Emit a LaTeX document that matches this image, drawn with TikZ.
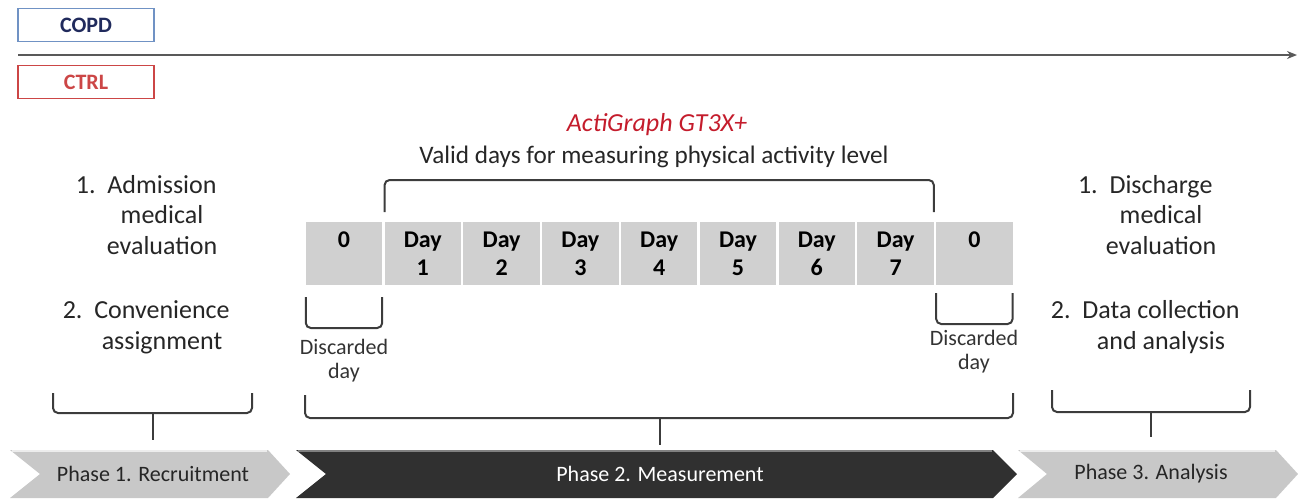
\documentclass[tikz,border=0pt]{standalone}
\usepackage{fontspec}
\setmainfont{Carlito}
\usepackage{xcolor}
\usetikzlibrary{arrows.meta, positioning, calc}

\definecolor{copdblue}{RGB}{112,146,196}
\definecolor{copdtext}{RGB}{32,42,92}
\definecolor{ctrlred}{RGB}{204,70,70}
\definecolor{actired}{RGB}{196,28,44}
\definecolor{cellgray}{RGB}{208,208,208}
\definecolor{phaselight}{RGB}{200,200,200}
\definecolor{phasedark}{RGB}{48,48,48}
\definecolor{brackgray}{RGB}{60,60,60}

\begin{document}
\begin{tikzpicture}[
    x=0.5pt, y=-0.5pt,
    group/.style={rectangle, thick, minimum width=68pt, minimum height=16.5pt, inner sep=0pt, font=\bfseries\fontsize{11}{12}\selectfont},
    daycell/.style={rectangle, fill=cellgray, minimum width=38.2pt, minimum height=31.5pt, inner sep=0pt, outer sep=0pt, align=center, font=\bfseries\fontsize{12}{14}\selectfont},
    note/.style={align=center, text=black!85, font=\fontsize{13}{15.3}\selectfont},
    small/.style={align=center, text=black!80, font=\fontsize{11}{12}\selectfont},
    bracket/.style={draw=brackgray, line width=1pt, rounded corners=2.5pt},
    phaselbl/.style={font=\fontsize{11}{13}\selectfont}
]
\useasboundingbox (0,0) rectangle (1298,499);

% Groups and time line
\node (copd) [group, draw=copdblue, text=copdtext] at (86,25) {COPD};
\node (ctrl) [group, draw=ctrlred, text=ctrlred] at (86,82) {CTRL};
\coordinate (tstart) at (18,55);
\coordinate (tend) at (1297,55);
\draw [-{Stealth[length=5pt,width=4pt]}, line width=1pt, black!65] (tstart) -- (tend);

% Texts
\node (acti) [font=\itshape\fontsize{13}{15}\selectfont, text=actired] at (657,125) {ActiGraph GT3X+};
\node (valid) [note, font=\fontsize{12.6}{15}\selectfont] at (654,157) {Valid days for measuring physical activity level};

\node (admit) [note] at (162,215) {\llap{1.\ \ }Admission\\medical\\evaluation};
\node (conv) [note] at (162,327) {\llap{2.\ \ }Convenience\\assignment};
\node (disch) [note] at (1161,215) {\llap{1.\ \ }Discharge\\medical\\evaluation};
\node (data) [note] at (1161,327) {\llap{2.\ \ }Data collection\\and analysis};

% Day cells
\node (d0) [daycell] at (344,253.5) {0\\\phantom{0}};
\node (d1) [daycell, right=1.2pt of d0] {Day\\1};
\node (d2) [daycell, right=1.2pt of d1] {Day\\2};
\node (d3) [daycell, right=1.2pt of d2] {Day\\3};
\node (d4) [daycell, right=1.2pt of d3] {Day\\4};
\node (d5) [daycell, right=1.2pt of d4] {Day\\5};
\node (d6) [daycell, right=1.2pt of d5] {Day\\6};
\node (d7) [daycell, right=1.2pt of d6] {Day\\7};
\node (d8) [daycell, right=1.2pt of d7] {0\\\phantom{0}};

% Valid days bracket
\draw [bracket] ($(d1.north west)+(0,-10)$) -- ++(0,-32) -| ($(d7.north east)+(0,-10)$);

% Discarded days
\draw [bracket] ($(d0.south west)+(0,12)$) -- ++(0,31) -| ($(d0.south east)+(0,12)$);
\node (disc0) [small] at (344,361) {Discarded\\day};
\draw [bracket] ($(d8.south west)+(0,8)$) -- ++(0,31) -| ($(d8.south east)+(0,8)$);
\node (disc8) [small] at (974,352) {Discarded\\day};

% Phase arrows
\fill [phaselight] (10,450) -- (268,450) -- (290,474) -- (268,498) -- (10,498) -- (40,474) -- cycle;
\fill [phasedark] (296,450) -- (993,450) -- (1017,474) -- (993,498) -- (296,498) -- (326,474) -- cycle;
\fill [phaselight] (1018,450) -- (1276,450) -- (1298,474) -- (1276,498) -- (1018,498) -- (1047,474) -- cycle;
\draw [white!85!gray, line width=1.2pt] (12,451) -- (267,451);
\draw [gray, line width=1.2pt] (298,451) -- (992,451);
\draw [white!85!gray, line width=1.2pt] (1020,451) -- (1275,451);

\node (ph1) [phaselbl, text=black!85] at (153,474) {Phase 1. Recruitment};
\node (ph2) [phaselbl, text=white] at (660,474) {Phase 2. Measurement};
\node (ph3) [phaselbl, text=black!85] at (1151,474) {Phase 3. Analysis};

% Phase brackets
\draw [bracket] (53,393) -- (53,413) -- (252,413) -- (252,393);
\draw [bracket] (305,395) -- (305,418) -- (1013,418) -- (1013,393);
\draw [bracket] (1052,390) -- (1052,412) -- (1250,412) -- (1250,390);
\draw [brackgray, line width=1pt] ($(ph1)+(0,-61)$) -- ($(ph1)+(0,-34)$);
\draw [brackgray, line width=1pt] ($(ph2)+(0,-56)$) -- ($(ph2)+(0,-29)$);
\draw [brackgray, line width=1pt] ($(ph3)+(0,-62)$) -- ($(ph3)+(0,-37)$);

\end{tikzpicture}
\end{document}
